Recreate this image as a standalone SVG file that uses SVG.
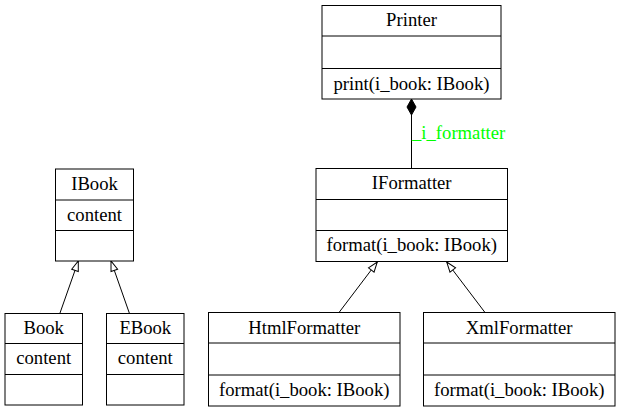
<svg xmlns="http://www.w3.org/2000/svg" width="621" height="412" viewBox="0 0 621 412">
<style>
.box{fill:#fff;stroke:#000;stroke-width:1}
.sep{stroke:#000;stroke-width:1}
text{font-family:"Liberation Serif","Times New Roman",serif;font-size:18.67px;fill:#000}
.c{text-anchor:middle}
.lbl{fill:#00ff00}
.edge{stroke:#000;stroke-width:1;fill:none}
</style>
<defs>
<marker id="inh" markerWidth="12" markerHeight="10" refX="10" refY="3.5" orient="auto" markerUnits="userSpaceOnUse" viewBox="-1 -1 12 9">
<polygon points="0,0 10,3.5 0,7" fill="#fff" stroke="#000" stroke-width="1"/>
</marker>
<marker id="dia" markerWidth="18" markerHeight="12" refX="0" refY="5" orient="auto" markerUnits="userSpaceOnUse" viewBox="-1 -1 18 12">
<polygon points="0,5 8,0.5 16,5 8,9.5" fill="#000" stroke="#000" stroke-width="1"/>
</marker>
</defs>
<g id="connectors">
<line class="edge" x1="60" y1="313" x2="78.3" y2="261" marker-end="url(#inh)"/>
<line class="edge" x1="129.3" y1="313" x2="111" y2="261" marker-end="url(#inh)"/>
<line class="edge" x1="339" y1="312.5" x2="377.3" y2="262" marker-end="url(#inh)"/>
<line class="edge" x1="485" y1="312.5" x2="446.7" y2="262" marker-end="url(#inh)"/>
<line class="edge" x1="411.5" y1="99" x2="411.5" y2="168.5" marker-start="url(#dia)"/>
<text class="lbl" x="412" y="139">_i_formatter</text>
</g>
<g id="Printer">
<rect class="box" x="322" y="5.5" width="179" height="93.5"/>
<line class="sep" x1="322" y1="36" x2="501" y2="36"/>
<line class="sep" x1="322" y1="68.5" x2="501" y2="68.5"/>
<text class="c" x="411.5" y="26">Printer</text>
<text class="c" x="411.5" y="89.5">print(i_book: IBook)</text>
</g>
<g id="IFormatter">
<rect class="box" x="316" y="168.5" width="191.5" height="93"/>
<line class="sep" x1="316" y1="199.5" x2="507.5" y2="199.5"/>
<line class="sep" x1="316" y1="230.5" x2="507.5" y2="230.5"/>
<text class="c" x="411.7" y="189">IFormatter</text>
<text class="c" x="411.7" y="251">format(i_book: IBook)</text>
</g>
<g id="HtmlFormatter">
<rect class="box" x="208.5" y="312.5" width="191.5" height="93.5"/>
<line class="sep" x1="208.5" y1="343" x2="400" y2="343"/>
<line class="sep" x1="208.5" y1="375" x2="400" y2="375"/>
<text class="c" x="304.2" y="333.5">HtmlFormatter</text>
<text class="c" x="304.2" y="395.5">format(i_book: IBook)</text>
</g>
<g id="XmlFormatter">
<rect class="box" x="423.5" y="312.5" width="191.5" height="93.5"/>
<line class="sep" x1="423.5" y1="343" x2="615" y2="343"/>
<line class="sep" x1="423.5" y1="375" x2="615" y2="375"/>
<text class="c" x="519.2" y="333.5">XmlFormatter</text>
<text class="c" x="519.2" y="395.5">format(i_book: IBook)</text>
</g>
<g id="IBook">
<rect class="box" x="55.5" y="169" width="78" height="92"/>
<line class="sep" x1="55.5" y1="200" x2="133.5" y2="200"/>
<line class="sep" x1="55.5" y1="230.5" x2="133.5" y2="230.5"/>
<text class="c" x="94.5" y="189.5">IBook</text>
<text class="c" x="94.5" y="220.5">content</text>
</g>
<g id="Book">
<rect class="box" x="5" y="313.5" width="77.5" height="91.5"/>
<line class="sep" x1="5" y1="343.5" x2="82.5" y2="343.5"/>
<line class="sep" x1="5" y1="374.5" x2="82.5" y2="374.5"/>
<text class="c" x="43.7" y="334">Book</text>
<text class="c" x="43.7" y="364">content</text>
</g>
<g id="EBook">
<rect class="box" x="106.5" y="313.5" width="77.5" height="91.5"/>
<line class="sep" x1="106.5" y1="343.5" x2="184" y2="343.5"/>
<line class="sep" x1="106.5" y1="374.5" x2="184" y2="374.5"/>
<text class="c" x="145.3" y="334">EBook</text>
<text class="c" x="145.3" y="364">content</text>
</g>
</svg>
